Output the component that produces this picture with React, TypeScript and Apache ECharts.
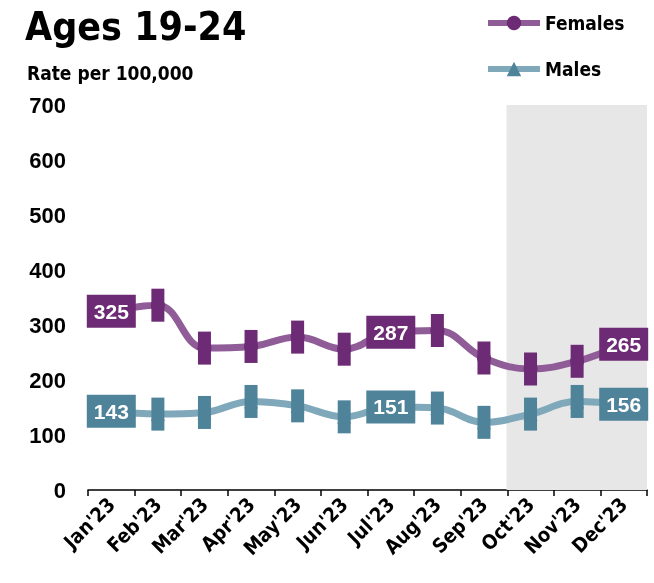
import React, { useEffect, useRef } from "react";
import * as echarts from "echarts";

const categories = ["Jan'23", "Feb'23", "Mar'23", "Apr'23", "May'23", "Jun'23", "Jul'23", "Aug'23", "Sep'23", "Oct'23", "Nov'23", "Dec'23"];
const females = [325, 336, 258, 261, 278, 256, 287, 290, 240, 220, 234, 265];
const males = [143, 138, 141, 161, 153, 133, 151, 149, 123, 138, 161, 156];
const labeledIdx = [0, 6, 11];
const shadedCats = ["Oct'23", "Nov'23", "Dec'23"];
const yMin = 0;
const yMax = 700;
const yInterval = 100;

const COND = "'Liberation Sans Narrow', 'DejaVu Sans Condensed', 'Roboto Condensed', 'Liberation Sans', sans-serif";
const SANS = "'Liberation Sans', Arial, sans-serif";

const F_DARK = "#6c2b74";
const F_LINE = "#8f5c98";
const M_DARK = "#4f8399";
const M_LINE = "#7fa8ba";
const SHADE = "#e7e7e7";

function markerData(vals: number[]) {
  return vals.map((v, i) =>
    labeledIdx.includes(i)
      ? { value: v, symbolSize: [49, 33], label: { show: true, formatter: String(v) } }
      : v
  );
}

export default function App() {
  const ref = useRef<HTMLDivElement>(null);
  useEffect(() => {
    const chart = echarts.init(ref.current!, null, { renderer: "svg" });
    const labelStyle = {
      show: false,
      position: "inside",
      color: "#fff",
      fontSize: 21,
      fontWeight: "bold",
      fontFamily: SANS,
    };
    chart.setOption({
      animation: false,
      title: [
        {
          text: "Ages 19-24",
          left: 20,
          top: 2,
          textStyle: { fontSize: 39, fontWeight: "bold", fontFamily: COND, color: "#000" },
        },
        {
          text: "Rate per 100,000",
          left: 22,
          top: 58,
          textStyle: { fontSize: 19, fontWeight: "bold", fontFamily: COND, color: "#000" },
        },
      ],
      legend: {
        data: ["Females", "Males"],
        orient: "vertical",
        left: 480,
        top: 8,
        itemWidth: 52,
        itemHeight: 18,
        itemGap: 26,
        lineStyle: { width: 6 },
        textStyle: { fontSize: 19, fontWeight: "bold", fontFamily: COND, color: "#000", lineHeight: 20 },
      },
      grid: { left: 88, right: 7, top: 105, bottom: 93, containLabel: false },
      xAxis: {
        type: "category",
        data: categories,
        boundaryGap: true,
        axisLine: { lineStyle: { color: "#000", width: 1.5 } },
        axisTick: { show: true, length: 6, lineStyle: { color: "#000", width: 1.5 } },
        axisLabel: {
          rotate: 45,
          interval: 0,
          margin: 11,
          fontSize: 20,
          fontWeight: "bold",
          fontFamily: COND,
          color: "#000",
        },
      },
      yAxis: {
        type: "value",
        min: yMin,
        max: yMax,
        interval: yInterval,
        axisLine: { show: false },
        axisTick: { show: false },
        splitLine: { show: false },
        axisLabel: { fontSize: 22, fontWeight: "bold", fontFamily: SANS, color: "#000", margin: 22 },
      },
      series: [
        {
          name: "shade",
          type: "bar",
          data: categories.map((c) => (shadedCats.includes(c) ? yMax : null)),
          barWidth: "103%",
          barCategoryGap: "0%",
          itemStyle: { color: SHADE },
          silent: true,
          z: 0,
        },
        {
          name: "Females",
          type: "line",
          data: females,
          smooth: 0.4,
          symbol: "circle",
          symbolSize: 14,
          itemStyle: { color: F_DARK },
          lineStyle: { color: F_LINE, width: 7 },
          z: 3,
        },
        {
          name: "Males",
          type: "line",
          data: males,
          smooth: 0.4,
          symbol: "triangle",
          symbolSize: 14,
          itemStyle: { color: M_DARK },
          lineStyle: { color: M_LINE, width: 7 },
          z: 3,
        },
        {
          name: "Females markers",
          type: "scatter",
          data: markerData(females),
          symbol: "rect",
          symbolSize: [13, 33],
          itemStyle: { color: F_DARK, opacity: 1 },
          label: labelStyle,
          z: 5,
        },
        {
          name: "Males markers",
          type: "scatter",
          data: markerData(males),
          symbol: "rect",
          symbolSize: [13, 33],
          itemStyle: { color: M_DARK, opacity: 1 },
          label: labelStyle,
          z: 5,
        },
      ],
    });
    return () => chart.dispose();
  }, []);
  return <div ref={ref} style={{ position: "fixed", left: 0, top: 0, width: 654, height: 583 }} />;
}
